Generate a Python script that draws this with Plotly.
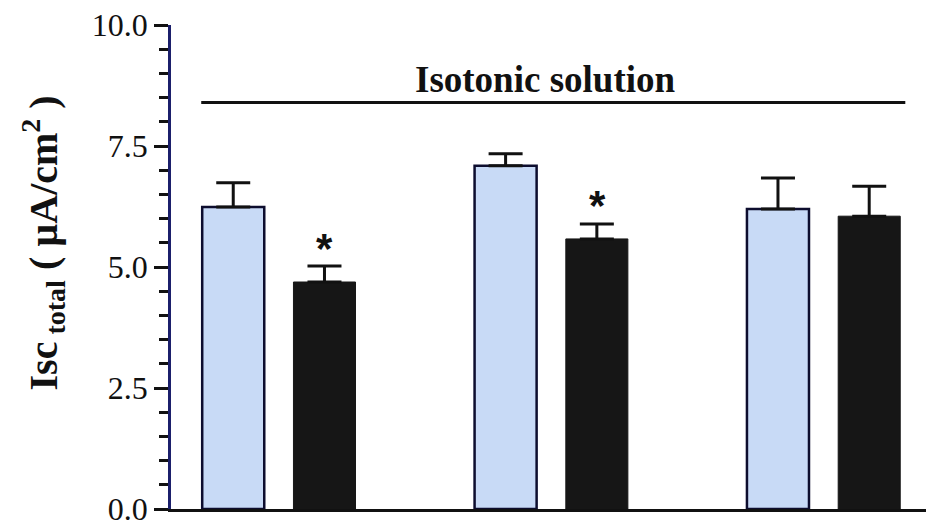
import plotly.graph_objects as go

groups = ["A", "B", "C"]
control_vals = [6.24, 7.09, 6.20]
control_err = [0.50, 0.25, 0.64]
treat_vals = [4.69, 5.58, 6.05]
treat_err = [0.33, 0.31, 0.62]
sig = ["*", "*", ""]
y_ticks = [0.0, 2.5, 5.0, 7.5, 10.0]
y_ticklabels = ["0.0", "2.5", "5.0", "7.5", "10.0"]
bracket_label = "Isotonic solution"
bracket_y = 8.4
y_title = "<b>Isc<sub> total</sub> ( µA/cm<sup>2</sup> )</b>"

fig = go.Figure()
fig.add_trace(go.Bar(
    x=groups, y=control_vals, name="control",
    marker=dict(color="#c8daf6", line=dict(color="#0d0d2e", width=2.5)),
    error_y=dict(type="data", symmetric=False, array=control_err,
                 arrayminus=[0]*3, color="#111111", thickness=3, width=17),
))
fig.add_trace(go.Bar(
    x=groups, y=treat_vals, name="treated",
    marker=dict(color="#161616", line=dict(color="#161616", width=1)),
    error_y=dict(type="data", symmetric=False, array=treat_err,
                 arrayminus=[0]*3, color="#111111", thickness=3, width=17),
))

# asterisks over treated bars
for i, s in enumerate(sig):
    if s:
        fig.add_annotation(x=i, xshift=46, y=treat_vals[i] + treat_err[i],
                           yshift=18, text="<b>*</b>", showarrow=False,
                           font=dict(family="Liberation Sans", size=42, color="#111111"))

fig.add_shape(type="line", xref="x", yref="y", x0=-0.285, x1=2.3,
              y0=bracket_y, y1=bracket_y, line=dict(color="#111111", width=3))
fig.add_annotation(x=0.98, y=bracket_y, yshift=23, text="<b>" + bracket_label + "</b>",
                   showarrow=False,
                   font=dict(family="Liberation Serif", size=37, color="#111111"))

# y-axis title
fig.add_annotation(xref="paper", yref="paper", x=-0.17, y=0.55, text=y_title,
                   textangle=-90, showarrow=False, xanchor="center", yanchor="middle",
                   font=dict(family="Liberation Serif", size=40, color="#111111"))

fig.update_layout(
    width=927, height=523,
    margin=dict(l=171, r=1, t=25, b=14),
    paper_bgcolor="white", plot_bgcolor="white",
    showlegend=False,
    barmode="group", bargap=0.33, bargroupgap=0.32,
    xaxis=dict(type="category", range=[-0.396, 2.376], showticklabels=False,
               ticks="", showgrid=False, showline=True, linecolor="#111111",
               linewidth=3, zeroline=False, automargin=False),
    yaxis=dict(range=[0, 10], tickvals=y_ticks, ticktext=y_ticklabels,
               ticks="outside", ticklen=14, tickwidth=2.5, tickcolor="#111111",
               showgrid=False, zeroline=False, showline=True,
               linecolor="#1b1f6b", linewidth=2.5, ticklabeloverflow="allow",
               automargin=False,
               tickfont=dict(family="Liberation Serif", size=32, color="#111111"),
               minor=dict(dtick=0.5, ticks="outside", ticklen=9, tickwidth=2.5,
                          tickcolor="#111111", showgrid=False)),
)

fig.write_html("out.html", config={"displayModeBar": False},
               post_script="document.body.style.margin='0';document.body.style.overflow='hidden';")
